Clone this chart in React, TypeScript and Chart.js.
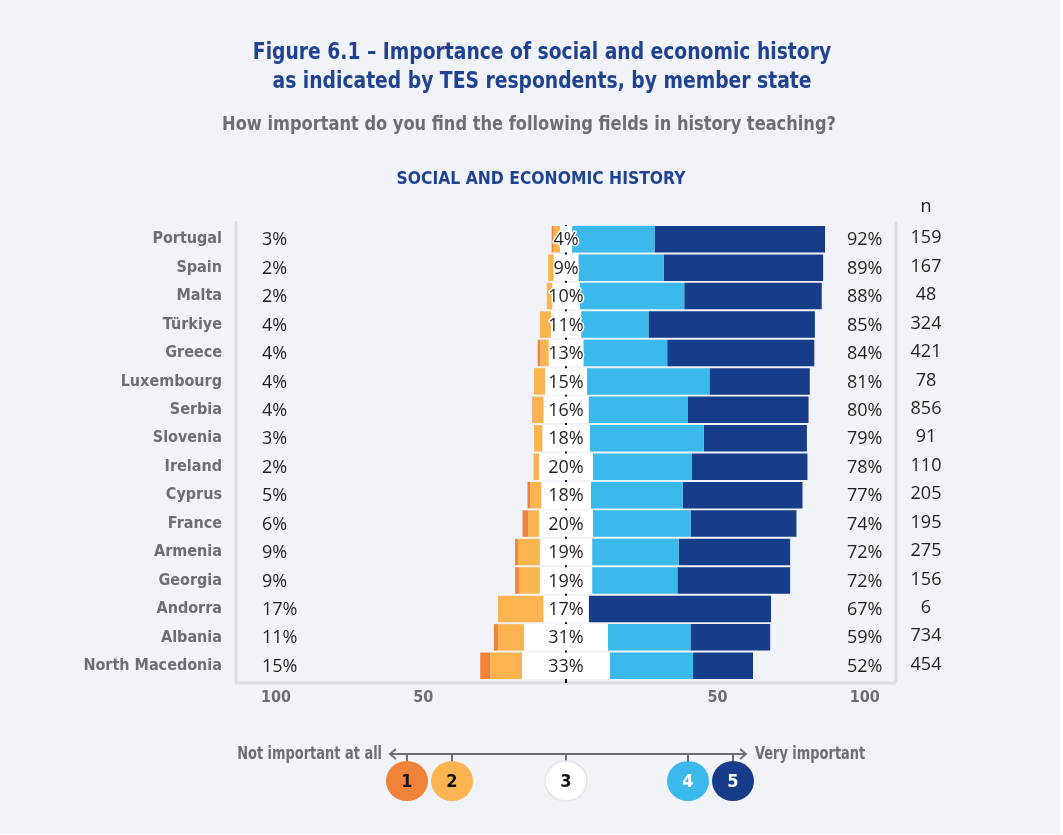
import React, { useEffect, useRef } from 'react';
import { Chart, registerables } from 'chart.js';

Chart.register(...registerables);

// ---------- data ----------
const COUNTRIES = [
  'Portugal', 'Spain', 'Malta', 'Türkiye', 'Greece', 'Luxembourg', 'Serbia', 'Slovenia',
  'Ireland', 'Cyprus', 'France', 'Armenia', 'Georgia', 'Andorra', 'Albania', 'North Macedonia',
];
// 1 = not important at all ... 5 = very important (percent of respondents)
const LEVEL_1 = [0.7, 0, 0, 0, 1, 0, 0.4, 0, 0, 1, 2, 1, 1.5, 0, 1.5, 3.6];
const LEVEL_2 = [2.3, 2, 2, 4, 3, 4, 3.6, 3, 2, 4, 4, 8, 7.5, 16.5, 9.5, 11.6];
const LEVEL_3 = [4.4, 9, 10, 11, 12.6, 15.3, 16.4, 17.2, 19.6, 18, 19.6, 19, 19, 16.5, 30.5, 32];
const LEVEL_4 = [30, 31, 38, 24.5, 30.5, 44.5, 36, 41.5, 36, 33.5, 35.5, 31.5, 31, 0, 30, 30.2];
const LEVEL_5 = [62, 58, 50, 60.5, 53.5, 36.5, 44, 37.5, 42, 43.5, 38.5, 40.5, 41, 66.3, 29, 21.8];

const LOW_LABELS = ['3%', '2%', '2%', '4%', '4%', '4%', '4%', '3%', '2%', '5%', '6%', '9%', '9%', '17%', '11%', '15%'];
const MID_LABELS = ['4%', '9%', '10%', '11%', '13%', '15%', '16%', '18%', '20%', '18%', '20%', '19%', '19%', '17%', '31%', '33%'];
const HIGH_LABELS = ['92%', '89%', '88%', '85%', '84%', '81%', '80%', '79%', '78%', '77%', '74%', '72%', '72%', '67%', '59%', '52%'];
const N_VALUES = ['159', '167', '48', '324', '421', '78', '856', '91', '110', '205', '195', '275', '156', '6', '734', '454'];

const TICK_VALUES = [-100, -50, 50, 100];
const LEVEL_NAMES = ['1', '2', '3', '4', '5'];

const TITLE_LINES = [
  'Figure 6.1 – Importance of social and economic history',
  'as indicated by TES respondents, by member state',
];
const SUBTITLE = 'How important do you find the following fields in history teaching?';
const SECTION = 'SOCIAL AND ECONOMIC HISTORY';
const SCALE_LOW = 'Not important at all';
const SCALE_HIGH = 'Very important';

// ---------- styles ----------
const COLORS = ['#f0823a', '#fbb44f', '#ffffff', '#3cb9ec', '#173d8a'];
const NAVY = '#1f4291';
const GREY = '#6d6e71';
const INK = '#231f20';
const FRAME = '#dcdde3';
const NARROW = '"DejaVu Sans Condensed", "Liberation Sans Narrow", sans-serif';
const REGULAR = '"Open Sans", "Noto Sans", sans-serif';

function buildRanges() {
  const sets: [number, number][][] = [[], [], [], [], []];
  for (let i = 0; i < COUNTRIES.length; i++) {
    const h = LEVEL_3[i] / 2;
    const a = -(h + LEVEL_2[i] + LEVEL_1[i]);
    const b = -(h + LEVEL_2[i]);
    sets[0].push([a, b]);
    sets[1].push([b, -h]);
    sets[2].push([-h, h]);
    sets[3].push([h, h + LEVEL_4[i]]);
    sets[4].push([h + LEVEL_4[i], h + LEVEL_4[i] + LEVEL_5[i]]);
  }
  return sets;
}

// draw text with a horizontal squeeze to mimic a condensed face
function squeezedText(ctx: CanvasRenderingContext2D, text: string, x: number, y: number, sx: number) {
  ctx.save();
  ctx.translate(x, y);
  ctx.scale(sx, 1);
  ctx.fillText(text, 0, 0);
  ctx.restore();
}

const framePlugin = {
  id: 'frameAndCenter',
  beforeDatasetsDraw(chart: any) {
    const { ctx, chartArea: ca, scales } = chart;
    const cx = scales.x.getPixelForValue(0);
    ctx.save();
    ctx.strokeStyle = FRAME;
    ctx.lineWidth = 3;
    ctx.beginPath();
    ctx.moveTo(ca.left, ca.top - 4);
    ctx.lineTo(ca.left, ca.bottom + 3);
    ctx.lineTo(ca.right, ca.bottom + 3);
    ctx.moveTo(ca.right, ca.top - 4);
    ctx.lineTo(ca.right, ca.bottom + 3);
    ctx.stroke();
    ctx.strokeStyle = '#111';
    ctx.lineWidth = 2;
    ctx.beginPath();
    ctx.moveTo(cx, ca.top);
    ctx.lineTo(cx, ca.bottom + 3);
    ctx.stroke();
    ctx.restore();
  },
};

const labelPlugin = {
  id: 'rowLabels',
  afterDatasetsDraw(chart: any) {
    const { ctx, chartArea: ca, scales } = chart;
    const cx = scales.x.getPixelForValue(0);
    ctx.save();
    ctx.textBaseline = 'middle';
    ctx.font = `18px ${REGULAR}`;
    for (let i = 0; i < COUNTRIES.length; i++) {
      const y = scales.y.getPixelForValue(i) + 1;
      ctx.fillStyle = INK;
      ctx.textAlign = 'left';
      ctx.fillText(LOW_LABELS[i], ca.left + 26, y);
      ctx.fillText(HIGH_LABELS[i], ca.right - 49, y);
      ctx.textAlign = 'center';
      ctx.fillText(N_VALUES[i], ca.right + 30, y - 2);
      ctx.lineWidth = 3;
      ctx.lineJoin = 'round';
      ctx.strokeStyle = '#ffffff';
      ctx.strokeText(MID_LABELS[i], cx, y);
      ctx.fillText(MID_LABELS[i], cx, y);
    }
    ctx.fillText('n', ca.right + 30, ca.top - 18);
    ctx.restore();
  },
};

const headerPlugin = {
  id: 'headers',
  afterDraw(chart: any) {
    const { ctx } = chart;
    ctx.save();
    ctx.textAlign = 'center';
    ctx.textBaseline = 'alphabetic';
    ctx.fillStyle = NAVY;
    ctx.font = `bold 23px ${NARROW}`;
    squeezedText(ctx, TITLE_LINES[0], 542, 59, 0.905);
    squeezedText(ctx, TITLE_LINES[1], 542, 88, 0.905);
    ctx.fillStyle = GREY;
    ctx.font = `bold 19px ${NARROW}`;
    squeezedText(ctx, SUBTITLE, 529, 130, 0.95);
    ctx.fillStyle = NAVY;
    ctx.font = `bold 17px ${NARROW}`;
    squeezedText(ctx, SECTION, 541, 184, 1.02);
    ctx.restore();
  },
};

const legendPlugin = {
  id: 'scaleLegend',
  afterDraw(chart: any) {
    const { ctx, scales } = chart;
    const cx = scales.x.getPixelForValue(0);
    const lineY = 754;
    const circleY = 781;
    const x0 = cx - 176;
    const x1 = cx + 180;
    const offsets = [-159, -114, 0, 122, 167];
    ctx.save();
    ctx.strokeStyle = GREY;
    ctx.lineWidth = 2;
    ctx.beginPath();
    ctx.moveTo(x0, lineY);
    ctx.lineTo(x1, lineY);
    ctx.moveTo(x0 + 6, lineY - 5);
    ctx.lineTo(x0, lineY);
    ctx.lineTo(x0 + 6, lineY + 5);
    ctx.moveTo(x1 - 6, lineY - 5);
    ctx.lineTo(x1, lineY);
    ctx.lineTo(x1 - 6, lineY + 5);
    offsets.forEach((o) => {
      ctx.moveTo(cx + o, lineY);
      ctx.lineTo(cx + o, lineY + 8);
    });
    ctx.stroke();

    ctx.fillStyle = GREY;
    ctx.font = `bold 18px ${NARROW}`;
    ctx.textBaseline = 'middle';
    ctx.textAlign = 'right';
    squeezedText(ctx, SCALE_LOW, x0 - 8, lineY, 0.8);
    ctx.textAlign = 'left';
    squeezedText(ctx, SCALE_HIGH, x1 + 9, lineY, 0.8);

    const ds = chart.data.datasets;
    offsets.forEach((o, k) => {
      ctx.beginPath();
      ctx.ellipse(cx + o, circleY, 21, 20, 0, 0, Math.PI * 2);
      ctx.fillStyle = ds[k].backgroundColor;
      ctx.fill();
      if (k === 2) {
        ctx.strokeStyle = '#e4e5ea';
        ctx.lineWidth = 1.5;
        ctx.stroke();
      }
      ctx.fillStyle = k >= 3 ? '#ffffff' : '#111111';
      ctx.font = `bold 18px ${NARROW}`;
      ctx.textAlign = 'center';
      ctx.fillText(ds[k].label, cx + o, circleY + 1);
    });
    ctx.restore();
  },
};

export default function App() {
  const ref = useRef<HTMLCanvasElement | null>(null);

  useEffect(() => {
    if (!ref.current) return;
    const ranges = buildRanges();
    const chart = new Chart(ref.current, {
      type: 'bar',
      data: {
        labels: COUNTRIES,
        datasets: ranges.map((data, k) => ({
          label: LEVEL_NAMES[k],
          data: data as any,
          backgroundColor: COLORS[k],
          borderWidth: 0,
          borderSkipped: false,
          grouped: false,
          barPercentage: 0.93,
          categoryPercentage: 1,
          xAxisID: 'x',
          yAxisID: 'y',
        })),
      },
      options: {
        indexAxis: 'y',
        responsive: false,
        animation: false,
        events: [],
        layout: { padding: { top: 225, right: 164, bottom: 124, left: 0 } },
        plugins: {
          legend: { display: false },
          tooltip: { enabled: false },
          title: { display: false },
        },
        scales: {
          x: { type: 'linear', min: -120, max: 120, display: false },
          x2: {
            type: 'linear',
            position: 'bottom',
            min: -113.6,
            max: 110.6,
            afterBuildTicks: (s: any) => {
              s.ticks = TICK_VALUES.map((v) => ({ value: v }));
            },
            afterFit: (s: any) => {
              s.height = 30;
            },
            ticks: {
              autoSkip: false,
              maxRotation: 0,
              padding: 8,
              color: GREY,
              font: { family: NARROW, size: 16, weight: 'bold' },
              callback: (v: any) => String(Math.abs(Number(v))),
            },
            grid: { display: false, drawTicks: false },
            border: { display: false },
          },
          y: {
            type: 'category',
            afterFit: (s: any) => {
              s.width = 236;
            },
            ticks: {
              autoSkip: false,
              padding: 14,
              color: GREY,
              font: { family: NARROW, size: 16, weight: 'bold' },
            },
            grid: { display: false, drawTicks: false },
            border: { display: false },
          },
        },
      } as any,
      plugins: [framePlugin, labelPlugin, headerPlugin, legendPlugin],
    });
    return () => chart.destroy();
  }, []);

  return (
    <div style={{ position: 'absolute', left: 0, top: 0, width: 1063, height: 835, background: '#ffffff' }}>
      <div style={{ width: 1060, height: 834, background: '#f2f3f8' }}>
        <canvas ref={ref} width={1060} height={834} style={{ display: 'block' }} />
      </div>
    </div>
  );
}
